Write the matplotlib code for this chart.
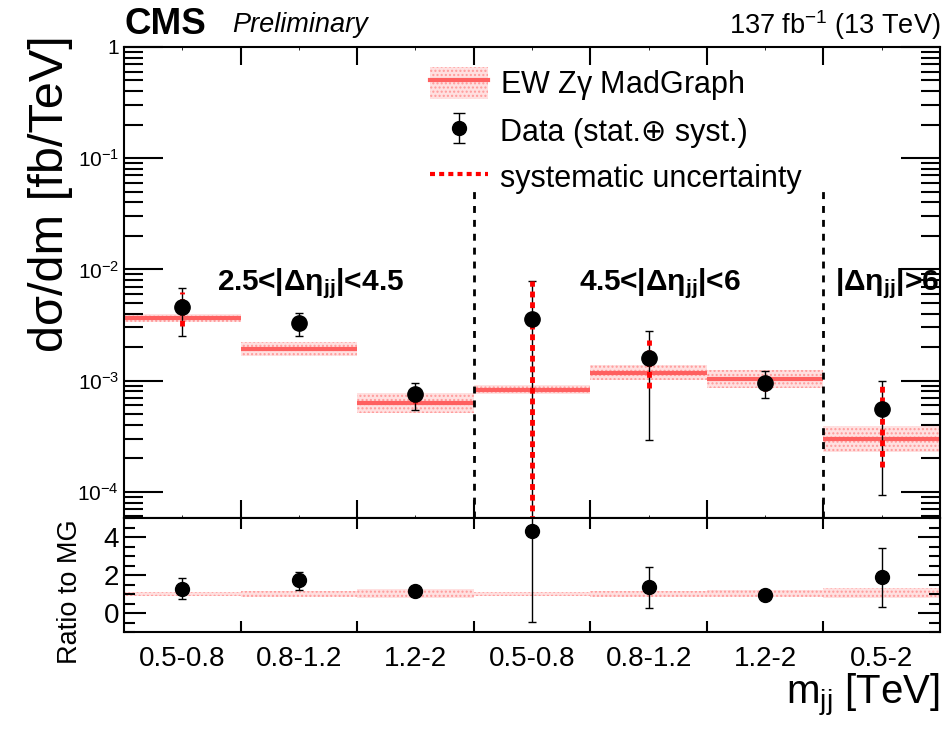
import numpy as np
import matplotlib
matplotlib.use("Agg")
import matplotlib.pyplot as plt
from matplotlib.patches import Patch
from matplotlib.lines import Line2D
from matplotlib.legend_handler import HandlerTuple
from matplotlib.ticker import FuncFormatter

plt.rcParams['font.family'] = ['Liberation Sans', 'DejaVu Sans']
plt.rcParams['mathtext.fontset'] = 'custom'
plt.rcParams['mathtext.rm'] = 'Liberation Sans'
plt.rcParams['mathtext.it'] = 'Liberation Sans:italic'
plt.rcParams['mathtext.bf'] = 'Liberation Sans:bold'

# bins: 3 mjj bins in 2.5<|deta|<4.5, 3 in 4.5<|deta|<6, 1 in |deta|>6
bin_labels = ["0.5-0.8", "0.8-1.2", "1.2-2", "0.5-0.8", "0.8-1.2", "1.2-2", "0.5-2"]

# EW Zgamma MadGraph prediction [fb/TeV] and its band
mc_val = [3.67e-3, 1.94e-3, 6.3e-4, 8.3e-4, 1.18e-3, 1.04e-3, 2.95e-4]
mc_lo = [3.35e-3, 1.65e-3, 5.1e-4, 7.6e-4, 1.01e-3, 8.6e-4, 2.3e-4]
mc_hi = [4.0e-3, 2.2e-3, 7.8e-4, 9.1e-4, 1.37e-3, 1.24e-3, 3.9e-4]

# data and uncertainties (absolute bounds)
data_val = [4.6e-3, 3.3e-3, 7.5e-4, 3.6e-3, 1.58e-3, 9.6e-4, 5.6e-4]
tot_lo = [2.5e-3, 2.53e-3, 5.4e-4, 1e-6, 2.9e-4, 6.9e-4, 9.3e-5]
tot_hi = [6.8e-3, 4.07e-3, 9.6e-4, 7.9e-3, 2.8e-3, 1.23e-3, 1.0e-3]
sys_lo = [3.1e-3, 2.87e-3, 6.3e-4, 1e-6, 8.6e-4, 8.1e-4, 1.66e-4]
sys_hi = [6.2e-3, 3.7e-3, 8.6e-4, 7.9e-3, 2.3e-3, 1.1e-3, 9.2e-4]

# ratio data / MG
ratio_val = [1.26, 1.74, 1.16, 4.3, 1.37, 0.95, 1.9]
ratio_lo = [0.74, 1.2, 1.0, -0.47, 0.26, 0.85, 0.32]
ratio_hi = [1.84, 2.16, 1.3, 6.0, 2.42, 1.05, 3.42]

regions = [r"2.5<|Δη$_{\mathbf{jj}}$|<4.5", r"4.5<|Δη$_{\mathbf{jj}}$|<6", r"|Δη$_{\mathbf{jj}}$|>6"]

BAND_FACE = "#ffe0e0"
BAND_EDGE = "#ff9a9a"
LINE_RED = "#ff6060"

fig = plt.figure(figsize=(9.49, 7.32), dpi=100)
ax = fig.add_axes([0.1307, 0.2923, 0.8598, 0.6435])
rx = fig.add_axes([0.1307, 0.1366, 0.8598, 0.1557], sharex=ax)

n = len(bin_labels)
edges = np.arange(n + 1)
cent = np.arange(n) + 0.5

for i in range(n):
    ax.fill_between([edges[i], edges[i + 1]], mc_lo[i], mc_hi[i], facecolor=BAND_FACE,
                    edgecolor=BAND_EDGE, hatch="....", lw=0)
    ax.hlines(mc_val[i], edges[i], edges[i + 1], color=LINE_RED, lw=3)
    rl, rh = mc_lo[i] / mc_val[i], mc_hi[i] / mc_val[i]
    rx.fill_between([edges[i], edges[i + 1]], rl, rh, facecolor=BAND_FACE,
                    edgecolor=BAND_EDGE, hatch="....", lw=0)

dv = np.array(data_val)
ax.errorbar(cent, dv, yerr=[dv - np.array(tot_lo), np.array(tot_hi) - dv], fmt="none",
            ecolor="black", elinewidth=1, capsize=3, capthick=1, zorder=4)
ax.vlines(cent, sys_lo, sys_hi, colors="red", lw=3.5, linestyles=(0, (1.2, 1.0)), zorder=5)
ax.plot(cent, dv, "o", color="black", ms=11, zorder=6)

rv = np.array(ratio_val)
rx.errorbar(cent, rv, yerr=[rv - np.array(ratio_lo), np.array(ratio_hi) - rv], fmt="o",
            color="black", ms=10, elinewidth=1, capsize=3, capthick=1, zorder=4)

ymin = 5.8e-5
ax.set_yscale("log")
ax.set_ylim(ymin, 1)
ax.set_xlim(0, n)
ax.vlines([3, 6], ymin, 0.056, colors="black", lw=2, linestyles=(0, (2.5, 2.5)), zorder=3)

for x, t in zip([1.6, 4.6, 6.55], regions):
    ax.text(x, 7.5e-3, t, ha="center", va="center", fontsize=21.5, fontweight="bold")

# legend handle for data: marker with error bar, drawn off-screen
eb = ax.errorbar([-5], [1e-3], yerr=[[4e-4], [4e-4]], fmt="o", color="black", ms=10,
                 elinewidth=1, capsize=4, capthick=1)
handles = [(Patch(facecolor=BAND_FACE, edgecolor=BAND_EDGE, hatch="....", lw=0),
            Line2D([], [], color=LINE_RED, lw=3)),
           eb,
           Line2D([], [], color="red", lw=3, ls=(0, (1.2, 1.0)))]
labels = [r"EW Z$\mathrm{\gamma}$ MadGraph", "Data (stat.⊕ syst.)", "systematic uncertainty"]
ax.legend(handles, labels, handler_map={tuple: HandlerTuple(ndivide=1, pad=0)},
          loc="upper left", bbox_to_anchor=(0.36, 0.983), frameon=False, fontsize=22,
          handlelength=1.9, handleheight=1.2, labelspacing=0.42, handletextpad=0.4,
          borderaxespad=0)

ax.yaxis.set_major_formatter(FuncFormatter(
    lambda v, p: "1" if abs(v - 1) < 1e-9 else r"$10^{%d}$" % round(np.log10(v))))
ax.tick_params(which="both", direction="in", top=True, right=True, labelbottom=False,
               labelsize=15)
ax.tick_params(axis="y", which="major", length=28, width=1.5)
ax.tick_params(axis="y", which="minor", length=14, width=1.5)
ax.tick_params(axis="x", which="major", length=13, width=1.5)
ax.set_xticks(edges[1:-1])
ax.set_xticks([], minor=True)
for s in ax.spines.values():
    s.set_linewidth(1.5)

rx.set_ylim(-1, 5)
rx.set_yticks([0, 2, 4])
rx.set_yticks(np.arange(-1, 5.01, 0.5), minor=True)
rx.set_xticks(edges[1:-1])
rx.set_xticks(cent, minor=True)
rx.set_xticklabels([], minor=False)
rx.set_xticklabels(bin_labels, minor=True)
rx.tick_params(which="both", direction="in", right=True, top=True, labelsize=20)
rx.tick_params(axis="x", which="minor", length=0, pad=10, labelsize=20)
rx.tick_params(axis="x", which="major", length=8, width=1.5)
rx.tick_params(axis="y", which="major", length=16, width=1.5)
rx.tick_params(axis="y", which="minor", length=8, width=1.5)
for s in rx.spines.values():
    s.set_linewidth(1.5)

fig.text(0.053, 0.952, "dσ/dm [fb/TeV]", fontsize=35, rotation=90, ha="center", va="top")
fig.text(0.074, 0.093, "Ratio to MG", fontsize=19.5, rotation=90, ha="center", va="bottom")
fig.text(0.1307, 0.966, "CMS", fontsize=26.5, fontweight="bold", ha="left", va="center")
fig.text(0.245, 0.966, "Preliminary", fontsize=19.5, style="italic", ha="left", va="center")
fig.text(0.9905, 0.966, r"137 fb$^{-1}$ (13 TeV)", fontsize=19.5, ha="right", va="center")
fig.text(0.9905, 0.05, r"m$_{\mathrm{jj}}$ [TeV]", fontsize=29, ha="right", va="center")

fig.savefig("out.png", dpi=100)
